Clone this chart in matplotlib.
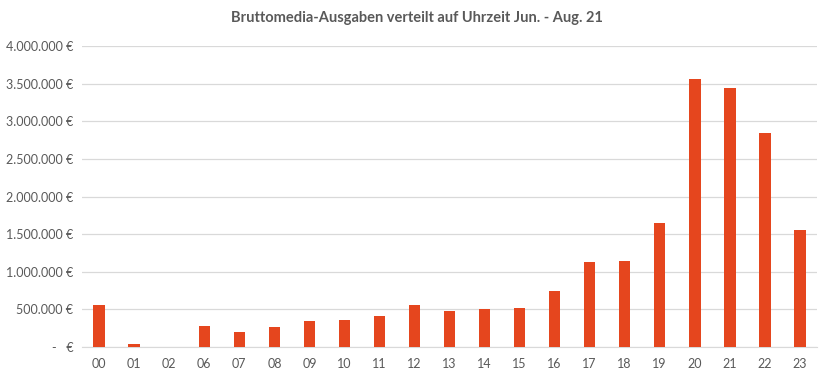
import numpy as np
import matplotlib
matplotlib.use("Agg")
import matplotlib.pyplot as plt
from matplotlib.ticker import FuncFormatter

# hours and gross media spend (EUR)
hours = ['00', '01', '02', '06', '07', '08', '09', '10', '11', '12', '13',
         '14', '15', '16', '17', '18', '19', '20', '21', '22', '23']
spend = [562000, 44000, 0, 283000, 194000, 270000, 340000, 363000, 416000,
         562000, 482000, 500000, 522000, 748000, 1133000, 1147000, 1652000,
         3565000, 3445000, 2846000, 1559000]
yticks = [0, 500000, 1000000, 1500000, 2000000, 2500000, 3000000, 3500000, 4000000]

plt.rcParams['font.family'] = ['Lato', 'DejaVu Sans']
grey = '#595959'

def euro(v, pos):
    if v == 0:
        return '-   €'
    return '{:,.0f} €'.format(v).replace(',', '.')

fig = plt.figure(figsize=(8.34, 3.79), dpi=100)
ax = fig.add_axes([0.098, 0.0844, 0.882, 0.7942])

x = np.arange(len(hours))
ax.bar(x, spend, width=0.33, color='#E5461E', zorder=3)

ax.set_xlim(-0.5, len(hours) - 0.5)
ax.set_ylim(0, 4000000)
ax.set_yticks(yticks)
ax.yaxis.set_major_formatter(FuncFormatter(euro))
ax.set_xticks(x)
ax.set_xticklabels(hours)

ax.grid(axis='y', color='#d9d9d9', linewidth=0.9, zorder=0)
for s in ['top', 'right', 'left']:
    ax.spines[s].set_visible(False)
ax.spines['bottom'].set_color('#d9d9d9')
ax.tick_params(axis='both', length=0, colors=grey, labelsize=9)
ax.tick_params(axis='x', pad=8)
ax.tick_params(axis='y', pad=6)

fig.text(0.5, 0.952, 'Bruttomedia-Ausgaben verteilt auf Uhrzeit Jun. - Aug. 21',
         ha='center', va='center', fontsize=10.5, fontweight='bold', color=grey)

fig.savefig('out.png', dpi=100)
